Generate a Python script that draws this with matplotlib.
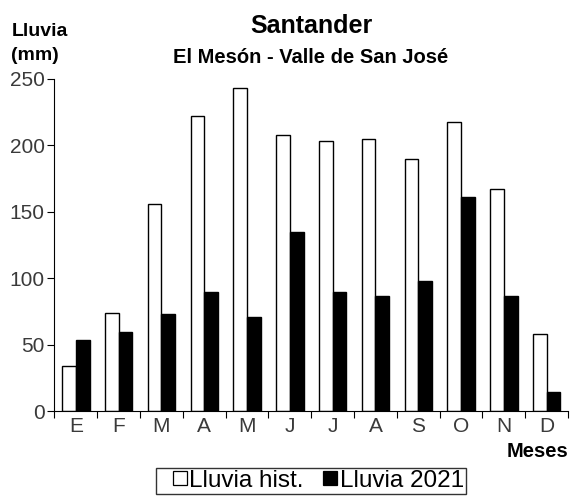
import matplotlib
matplotlib.use("Agg")
import matplotlib.pyplot as plt
from matplotlib.lines import Line2D
import numpy as np

plt.rcParams['font.family'] = ['Liberation Sans', 'DejaVu Sans']

meses = ["E", "F", "M", "A", "M", "J", "J", "A", "S", "O", "N", "D"]
lluvia_hist = [34, 74, 156, 222, 243, 208, 203, 205, 190, 218, 167, 58]
lluvia_2021 = [54, 60, 73, 90, 71, 135, 90, 87, 98, 161, 87, 15]
series = ["Lluvia hist.", "Lluvia 2021"]

fig = plt.figure(figsize=(5.7, 4.96), dpi=100)
ax = fig.add_axes([0.0956, 0.1704, 0.9009, 0.6704])

x = np.arange(len(meses))
w = 0.32
ax.bar(x - w/2, lluvia_hist, w, color="white", edgecolor="black", linewidth=1.0)
ax.bar(x + w/2, lluvia_2021, w, color="black", edgecolor="black", linewidth=1.0)

ax.set_xlim(-0.5, 11.5)
ax.set_ylim(0, 250)
ax.set_yticks([0, 50, 100, 150, 200, 250])
ax.set_xticks(np.arange(-0.5, 12, 1))
ax.set_xticklabels([])
ax.set_xticks(x, minor=True)
ax.set_xticklabels(meses, minor=True)
ax.tick_params(axis="x", which="minor", length=0, pad=4, labelsize=15, labelcolor="#3a3a3a")
ax.tick_params(axis="x", which="major", length=5, direction="out", color="black")
ax.tick_params(axis="y", length=5, direction="out", labelsize=15, labelcolor="#3a3a3a", pad=2)
ax.spines["top"].set_visible(False)
ax.spines["right"].set_visible(False)

fig.text(0.546, 0.948, "Santander", ha="center", va="center", fontsize=18, fontweight="bold")
fig.text(0.545, 0.885, "El Mesón - Valle de San José", ha="center", va="center", fontsize=14.5, fontweight="bold")
fig.text(0.02, 0.9274, "Lluvia", ha="left", va="baseline", fontsize=14, fontweight="bold")
fig.text(0.02, 0.880, "(mm)", ha="left", va="baseline", fontsize=14, fontweight="bold")
fig.text(0.9965, 0.0792, "Meses", ha="right", va="baseline", fontsize=14.5, fontweight="bold")

handles = [Line2D([], [], marker="s", linestyle="none", markersize=9.5, markerfacecolor="white",
                  markeredgecolor="black", markeredgewidth=0.9),
           Line2D([], [], marker="s", linestyle="none", markersize=9.5, markerfacecolor="black",
                  markeredgecolor="black", markeredgewidth=0.9)]
leg = fig.legend(handles, series, loc="upper center", bbox_to_anchor=(0.5456, 0.0565), ncol=2,
                 fontsize=17.5, frameon=True, fancybox=False, edgecolor="black",
                 handlelength=1.8, handletextpad=-0.5, columnspacing=0.2,
                 borderpad=0.08, borderaxespad=0)
leg.get_frame().set_linewidth(1.0)

fig.savefig("out.png", dpi=100)
